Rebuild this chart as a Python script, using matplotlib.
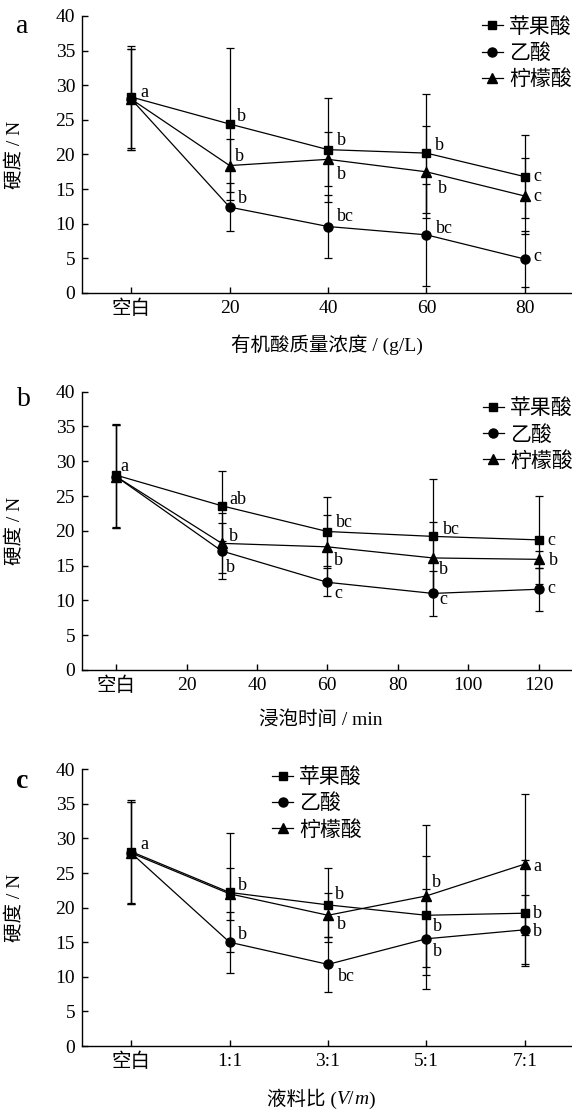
import numpy as np
import matplotlib
matplotlib.use("Agg")
import matplotlib.pyplot as plt
from matplotlib.offsetbox import TextArea, HPacker, AnchoredOffsetbox

FONT = ['Liberation Serif', 'Noto Sans CJK SC']
plt.rcParams['font.family'] = FONT

series_names = ['苹果酸', '乙酸', '柠檬酸']
markers = ['s', 'o', '^']
msizes = [6, 6.5, 7.5]

# --- panel a: organic acid concentration ---
a_x = [0, 1, 2, 3, 4]
a_ticks = ['空白', '20', '40', '60', '80']
a_vals = [[28.3, 24.4, 20.7, 20.2, 16.8],
          [28.0, 12.4, 9.6, 8.4, 4.9],
          [28.0, 18.4, 19.3, 17.5, 14.0]]
a_err = [[7.3, 11.0, 7.5, 8.6, 6.0],
         [7.3, 3.5, 4.6, 7.4, 4.0],
         [7.3, 3.8, 3.9, 6.6, 5.5]]
a_sig = [['a', 'b', 'b', 'b', 'c'],
         [None, 'b', 'bc', 'bc', 'c'],
         [None, 'b', 'b', 'b', 'c']]
a_off = [[(13, -5), (11.5, -7.3), (13.7, -9), (13.5, -8), (12.3, 0)],
         [None, (13, -9), (17, -9.8), (18.5, -6.5), (12.3, -2.4)],
         [None, (10, -9), (13.7, 14.7), (16, 16.5), (12.3, 0)]]

# --- panel b: soaking time ---
b_x = [0, 30, 60, 90, 120]
b_tickpos = [0, 20, 40, 60, 80, 100, 120]
b_ticks = ['空白', '20', '40', '60', '80', '100', '120']
b_vals = [[28.0, 23.6, 19.9, 19.2, 18.7],
          [27.8, 17.1, 12.6, 11.0, 11.6],
          [27.8, 18.2, 17.7, 16.1, 15.9]]
b_err = [[7.4, 5.0, 4.9, 8.2, 6.3],
         [7.4, 4.0, 2.0, 3.2, 3.1],
         [7.4, 4.3, 4.6, 5.2, 1.2]]
b_sig = [['a', 'ab', 'bc', 'bc', 'c'],
         [None, 'b', 'c', 'c', 'c'],
         [None, 'b', 'b', 'b', 'b']]
b_off = [[(8, -9), (16.6, -6.7), (16.7, -8.8), (18.4, -6.4), (12.4, 1)],
         [None, (9, 16.3), (10.7, 11.7), (10.7, 6), (12.4, -1)],
         [None, (11.3, -6.6), (11, 13.2), (10.7, 12), (15, 1.4)]]

# --- panel c: liquid/material ratio ---
c_x = [0, 1, 2, 3, 4]
c_ticks = ['空白', '1:1', '3:1', '5:1', '7:1']
c_vals = [[28.1, 22.2, 20.4, 18.9, 19.2],
          [27.9, 15.0, 11.8, 15.5, 16.8],
          [27.9, 22.0, 18.9, 21.7, 26.3]]
c_err = [[7.4, 8.6, 5.3, 8.6, 7.7],
         [7.4, 4.4, 4.0, 7.2, 5.0],
         [7.4, 3.8, 3.2, 10.3, 10.2]]
c_sig = [['a', 'b', 'b', 'b', 'b'],
         [None, 'b', 'bc', 'b', 'b'],
         [None, None, 'b', 'b', 'a']]
c_off = [[(12.7, -7.6), (12.4, -7.4), (11.7, -9.9), (11, 11.4), (12.3, 0)],
         [None, (12.4, -8.2), (18.4, 12.3), (11, 12.9), (12.3, 2)],
         [None, None, (13.4, 9.7), (10, -13.2), (12.3, 2)]]


def draw_panel(ax, x, vals, err, sig, off, xlim, tickpos, ticks, leg_anchor):
    handles = []
    for i in range(3):
        cont = ax.errorbar(x, vals[i], yerr=err[i], color='black', lw=0.9,
                           elinewidth=0.9, capsize=3.2, capthick=0.9,
                           marker=markers[i], ms=msizes[i], mfc='black', mec='black',
                           label=series_names[i])
        handles.append(cont.lines[0])
        for j in range(len(x)):
            if sig[i][j] is None:
                continue
            dx, dy = off[i][j]
            ax.annotate(sig[i][j], (x[j], vals[i][j]),
                        xytext=(dx * 0.72, -dy * 0.72), textcoords='offset points',
                        ha='center', va='center', fontsize=13)
    ax.set_xlim(*xlim)
    ax.set_ylim(0, 40)
    ax.set_yticks(np.arange(0, 41, 5))
    ax.set_xticks(tickpos)
    ax.set_xticklabels(ticks)
    ax.spines['top'].set_visible(False)
    ax.spines['right'].set_visible(False)
    for s in ['left', 'bottom']:
        ax.spines[s].set_linewidth(1.0)
    ax.tick_params(direction='in', length=4.5, width=1.0, labelsize=14, pad=5)
    ax.set_ylabel('硬度 / N', fontsize=14)
    ax.yaxis.set_label_coords(-0.117, 0.5)
    ax.legend(handles=handles, labels=series_names, loc='upper left',
              bbox_to_anchor=leg_anchor, frameon=False,
              fontsize=15, handlelength=1.0, handletextpad=0.3,
              labelspacing=0.31, borderpad=0, borderaxespad=0)


fig = plt.figure(figsize=(5.72, 11.09), dpi=100)
left, width = 0.1434, 0.8566
ax_a = fig.add_axes([left, 0.7358, width, 0.2498])
ax_b = fig.add_axes([left, 0.3959, width, 0.2509])
ax_c = fig.add_axes([left, 0.0568, width, 0.2495])

draw_panel(ax_a, a_x, a_vals, a_err, a_sig, a_off, (-0.5, 4.48), a_x, a_ticks, (0.816, 0.994))
draw_panel(ax_b, b_x, b_vals, b_err, b_sig, b_off, (-9.7, 129.5), b_tickpos, b_ticks, (0.818, 0.973))
draw_panel(ax_c, c_x, c_vals, c_err, c_sig, c_off, (-0.5, 4.48), c_x, c_ticks, (0.388, 1.005))

ax_a.set_xlabel('有机酸质量浓度 / (g/L)', fontsize=14)
ax_a.xaxis.set_label_coords(0.5, -0.188)
ax_a.xaxis.label.set_va('center')
ax_b.set_xlabel('浸泡时间 / min', fontsize=14)
ax_b.xaxis.set_label_coords(0.487, -0.18)
ax_b.xaxis.label.set_va('center')

# x label with italic V/m for panel c
parts = [TextArea('液料比 (', textprops=dict(family=FONT, size=14)),
         TextArea('V', textprops=dict(family=FONT, size=14, style='italic')),
         TextArea('/', textprops=dict(family=FONT, size=14)),
         TextArea('m', textprops=dict(family=FONT, size=14, style='italic')),
         TextArea(')', textprops=dict(family=FONT, size=14))]
box = HPacker(children=parts, pad=0, sep=0, align='baseline')
ab = AnchoredOffsetbox(loc='center', child=box, frameon=False, pad=0, borderpad=0,
                       bbox_to_anchor=(0.487, -0.189), bbox_transform=ax_c.transAxes)
ax_c.add_artist(ab)

fig.text(0.0385, 0.9757, 'a', fontsize=20, ha='center', va='center')
fig.text(0.0414, 0.640, 'b', fontsize=20, ha='center', va='center')
fig.text(0.0395, 0.2951, 'c', fontsize=20, ha='center', va='center', fontweight='bold')

fig.savefig('out.png', dpi=100)
